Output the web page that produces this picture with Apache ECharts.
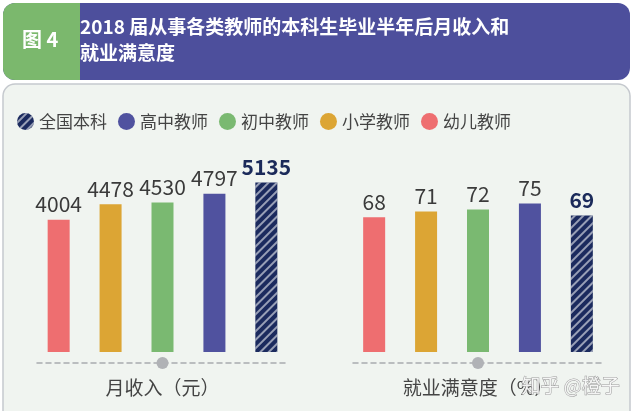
<!DOCTYPE html>
<html><head><meta charset="utf-8">
<script src="https://cdn.jsdelivr.net/npm/echarts@6/dist/echarts.min.js"></script>
<style>html,body{margin:0;padding:0;background:#fff}#c{width:634px;height:411px}</style>
</head><body><div id="c"></div>
<script>
const groups = ['幼儿教师','小学教师','初中教师','高中教师','全国本科'];
const legendOrder = ['全国本科','高中教师','初中教师','小学教师','幼儿教师'];
const income = [4004,4478,4530,4797,5135];
const satisfaction = [68,71,72,75,69];
const axisNames = ['月收入（元）','就业满意度（%）'];
const colors = ['#ee6e70','#dca534','#7ab971','#50529f','#1b2a5e'];
const FONT = '"Noto Sans CJK SC","Noto Sans",sans-serif';

const chart = echarts.init(document.getElementById('c'));
const decal = {symbol:'rect',symbolSize:1,dashArrayX:[1,0],dashArrayY:[1.2,3.3],rotation:-Math.PI/4,color:'rgba(255,255,255,0.55)'};

function mkSeries(gi, vals){
  return groups.map((g,i)=>{
    const last = i===groups.length-1;
    return {
      type:'bar', name:g, xAxisIndex:gi, yAxisIndex:gi,
      data:[vals[i]], barWidth:22, barGap:'136%',
      itemStyle:{color:colors[i], decal: last?decal:undefined},
      label:{show:true,position:'top',distance:5,fontSize:21,fontFamily:FONT,
        color:last?'#1b2a5a':'#3a3a3a',fontWeight:last?'bold':'normal'},
      emphasis:{disabled:true}
    };
  });
}

const xAxisBase = (gi)=>({
  type:'category', gridIndex:gi, data:[''], offset:11, position:'bottom',
  axisLine:{onZero:false,lineStyle:{color:'#a8abae',type:[5,4],width:1.5}},
  axisTick:{show:false}, axisLabel:{show:false},
  name:axisNames[gi], nameLocation:'middle', nameGap:15,
  nameTextStyle:{fontSize:19,color:'#444',fontFamily:FONT}
});

chart.setOption({
  animation:false,
  aria:{enabled:false, decal:{show:false}},
  graphic:[
    {type:'rect',shape:{x:3,y:84,width:627,height:340,r:12},style:{fill:'#f0f4f0',stroke:'#c5c9ce',lineWidth:1.5},z:-10},
    {type:'rect',shape:{x:3,y:3,width:627,height:77,r:12},style:{fill:'#4d4f9c'},z:-9},
    {type:'rect',shape:{x:3,y:3,width:77,height:77,r:[12,0,0,12]},style:{fill:'#7bb86d'},z:-8},
    {type:'text',left:22,top:29,style:{text:'图 4',fill:'#fff',font:'bold 20px '+FONT},z:5},
    {type:'text',left:80,top:14,style:{text:'2018 届从事各类教师的本科生毕业半年后月收入和\n就业满意度',fill:'#fff',font:'bold 19px '+FONT,lineHeight:26},z:5},
    {type:'circle',shape:{cx:162.5,cy:363,r:6},style:{fill:'#b0b2b6'},z:10},
    {type:'circle',shape:{cx:478,cy:363,r:6},style:{fill:'#b0b2b6'},z:10},
    {type:'text',left:521,top:376,style:{text:'知乎 @橙子',fill:'rgba(255,255,255,0.85)',stroke:'#9a9a9a',lineWidth:1,font:'19px '+FONT},z:20}
  ],
  legend:{
    data:legendOrder, left:17, top:113, padding:0, itemWidth:17, itemHeight:17, itemGap:11, icon:'circle',
    textStyle:{fontSize:17,color:'#444',fontFamily:FONT}, selectedMode:false
  },
  grid:[
    {left:37,width:251,top:154,bottom:59},
    {left:353,width:250,top:154,bottom:59}
  ],
  xAxis:[xAxisBase(0),xAxisBase(1)],
  yAxis:[
    {type:'value',gridIndex:0,min:0,max:6000,show:false,splitLine:{show:false}},
    {type:'value',gridIndex:1,min:0,max:100,show:false,splitLine:{show:false}}
  ],
  series:[...mkSeries(0,income),...mkSeries(1,satisfaction)]
});
</script></body></html>
